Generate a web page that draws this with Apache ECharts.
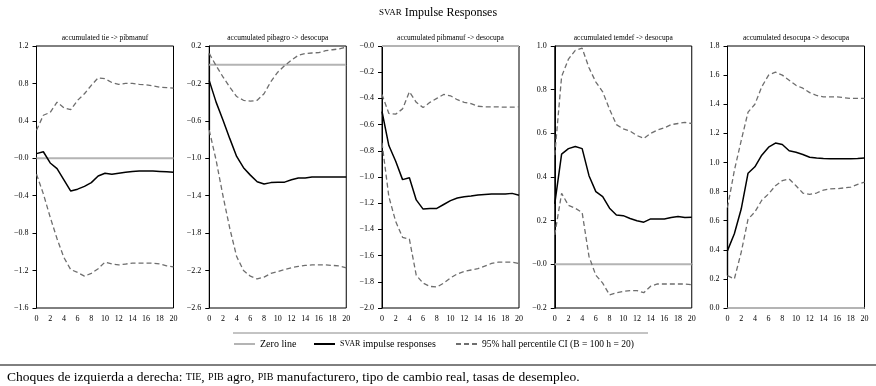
<!DOCTYPE html>
<html>
<head>
<meta charset="utf-8">
<script src="https://cdn.jsdelivr.net/npm/echarts@6/dist/echarts.min.js"></script>
<style>
  html, body { margin: 0; padding: 0; background: #fff; }
  #chart { width: 876px; height: 386px; }
</style>
</head>
<body>
<div id="chart"></div>
<script>
  // horizons 0..20
  const horizons = [0, 1, 2, 3, 4, 5, 6, 7, 8, 9, 10, 11, 12, 13, 14, 15, 16, 17, 18, 19, 20];

  const panelTitles = [
    'accumulated tie -> pibmanuf',
    'accumulated pibagro -> desocupa',
    'accumulated pibmanuf -> desocupa',
    'accumulated temdef -> desocupa',
    'accumulated desocupa -> desocupa'
  ];

  // point estimates
  const tiePibmanuf = [0.05, 0.07, -0.05, -0.11, -0.23, -0.35, -0.33, -0.30, -0.26, -0.19, -0.16, -0.17, -0.16, -0.15, -0.14, -0.135, -0.135, -0.135, -0.14, -0.145, -0.15];
  const pibagroDesocupa = [-0.17, -0.40, -0.59, -0.79, -0.98, -1.10, -1.18, -1.25, -1.275, -1.26, -1.255, -1.255, -1.23, -1.21, -1.21, -1.20, -1.20, -1.20, -1.20, -1.20, -1.20];
  const pibmanufDesocupa = [-0.50, -0.76, -0.88, -1.02, -1.005, -1.175, -1.245, -1.24, -1.24, -1.21, -1.18, -1.16, -1.15, -1.145, -1.137, -1.133, -1.13, -1.13, -1.13, -1.125, -1.14];
  const temdefDesocupa = [0.277, 0.505, 0.53, 0.54, 0.53, 0.406, 0.333, 0.31, 0.257, 0.226, 0.223, 0.21, 0.20, 0.193, 0.208, 0.208, 0.208, 0.214, 0.219, 0.214, 0.216];
  const desocupaDesocupa = [0.394, 0.51, 0.68, 0.926, 0.97, 1.05, 1.105, 1.133, 1.123, 1.08, 1.07, 1.055, 1.036, 1.03, 1.027, 1.025, 1.025, 1.025, 1.025, 1.027, 1.03];

  // 95% bootstrap bands
  const tiePibmanufHi = [0.30, 0.46, 0.49, 0.60, 0.54, 0.52, 0.62, 0.69, 0.78, 0.86, 0.85, 0.81, 0.79, 0.80, 0.80, 0.79, 0.785, 0.775, 0.76, 0.755, 0.75];
  const tiePibmanufLo = [-0.17, -0.38, -0.63, -0.86, -1.06, -1.19, -1.22, -1.26, -1.23, -1.18, -1.11, -1.13, -1.14, -1.13, -1.12, -1.12, -1.12, -1.12, -1.13, -1.15, -1.16];
  const pibagroDesocupaHi = [0.12, -0.01, -0.13, -0.24, -0.34, -0.38, -0.39, -0.38, -0.31, -0.18, -0.08, -0.01, 0.05, 0.10, 0.12, 0.125, 0.13, 0.15, 0.16, 0.17, 0.19];
  const pibagroDesocupaLo = [-0.70, -1.02, -1.40, -1.75, -2.05, -2.20, -2.26, -2.29, -2.27, -2.23, -2.21, -2.19, -2.17, -2.155, -2.145, -2.14, -2.14, -2.14, -2.145, -2.15, -2.17];
  const pibmanufDesocupaHi = [-0.37, -0.515, -0.52, -0.48, -0.35, -0.43, -0.47, -0.43, -0.40, -0.37, -0.38, -0.41, -0.43, -0.44, -0.46, -0.465, -0.465, -0.465, -0.467, -0.467, -0.465];
  const pibmanufDesocupaLo = [-0.74, -1.15, -1.34, -1.46, -1.475, -1.75, -1.81, -1.835, -1.84, -1.81, -1.77, -1.74, -1.72, -1.71, -1.70, -1.68, -1.66, -1.65, -1.65, -1.65, -1.66];
  const temdefDesocupaHi = [0.50, 0.86, 0.94, 0.98, 0.99, 0.90, 0.835, 0.79, 0.71, 0.64, 0.62, 0.61, 0.59, 0.577, 0.60, 0.615, 0.625, 0.64, 0.645, 0.65, 0.645];
  const temdefDesocupaLo = [0.135, 0.325, 0.27, 0.257, 0.237, 0.036, -0.05, -0.086, -0.14, -0.13, -0.124, -0.12, -0.12, -0.13, -0.10, -0.09, -0.09, -0.09, -0.09, -0.09, -0.093];
  const desocupaDesocupaHi = [0.69, 0.945, 1.15, 1.346, 1.40, 1.52, 1.60, 1.62, 1.60, 1.565, 1.53, 1.51, 1.48, 1.46, 1.45, 1.45, 1.45, 1.445, 1.44, 1.44, 1.44];
  const desocupaDesocupaLo = [0.222, 0.20, 0.383, 0.61, 0.66, 0.74, 0.784, 0.84, 0.875, 0.887, 0.84, 0.79, 0.78, 0.79, 0.81, 0.818, 0.82, 0.825, 0.83, 0.85, 0.864];

  const irfs = [tiePibmanuf, pibagroDesocupa, pibmanufDesocupa, temdefDesocupa, desocupaDesocupa];
  const upper = [tiePibmanufHi, pibagroDesocupaHi, pibmanufDesocupaHi, temdefDesocupaHi, desocupaDesocupaHi];
  const lower = [tiePibmanufLo, pibagroDesocupaLo, pibmanufDesocupaLo, temdefDesocupaLo, desocupaDesocupaLo];

  // y axis ranges and tick steps
  const yMin = [-1.6, -2.6, -2.0, -0.2, 0.0];
  const yMax = [1.2, 0.2, 0.0, 1.0, 1.8];
  const yStep = [0.4, 0.4, 0.2, 0.2, 0.2];

  const FONT = '"Liberation Serif", "DejaVu Serif", serif';
  const ZERO_NAME = 'Zero line';
  const IRF_NAME = 'SVAR impulse responses';
  const CI_NAME = '95% hall percentile CI (B = 100 h = 20)';
  const showH0 = [false, true, false, false, true];

  const chart = echarts.init(document.getElementById('chart'), null, {renderer: 'canvas'});

  const grids = [], xAxes = [], yAxes = [], series = [], graphics = [];
  const pair = (arr) => horizons.map((h, j) => [h, arr[j]]);

  irfs.forEach((irf, i) => {
    const left = 36.5 + i * 172.75;
    const width = 137;
    grids.push({left: left, top: 46, width: width, height: 262,
      show: true, borderColor: '#000', borderWidth: 1, backgroundColor: 'transparent'});

    const yTicks = [];
    const n = Math.round((yMax[i] - yMin[i]) / yStep[i]);
    for (let k = 0; k <= n; k++) yTicks.push(+(yMin[i] + k * yStep[i]).toFixed(2));

    xAxes.push({
      type: 'value', gridIndex: i, min: 0, max: 20, interval: 2,
      axisLine: {lineStyle: {color: '#000', width: 1}},
      axisTick: {show: false},
      splitLine: {show: false},
      axisLabel: {fontFamily: FONT, fontSize: 8, color: '#000', margin: 7}
    });
    yAxes.push({
      type: 'value', gridIndex: i, min: yMin[i], max: yMax[i],
      axisLine: {show: true, lineStyle: {color: '#000', width: 1}},
      axisTick: {show: true, length: 4, customValues: yTicks, lineStyle: {color: '#000'}},
      splitLine: {show: false},
      axisLabel: {
        fontFamily: FONT, fontSize: 8, color: '#000', margin: 8,
        customValues: yTicks,
        formatter: (v) => {
          if (Math.abs(v) < 1e-9) return i === 4 ? '0.0' : '\u22120.0';
          return v < 0 ? '\u2212' + Math.abs(v).toFixed(1) : v.toFixed(1);
        }
      }
    });

    series.push({
      name: ZERO_NAME, type: 'line', xAxisIndex: i, yAxisIndex: i,
      data: horizons.map(h => [h, 0]), symbol: 'none', silent: true,
      lineStyle: {color: '#b4b4b4', width: 2}, itemStyle: {color: '#b4b4b4'}, z: 1
    });
    if (showH0[i]) {
      series.push({
        type: 'line', xAxisIndex: i, yAxisIndex: i,
        data: [[0, lower[i][0]], [0, upper[i][0]]], symbol: 'none', silent: true,
        lineStyle: {color: '#9a9a9a', width: 2}, z: -1
      });
    }
    series.push({
      name: CI_NAME, type: 'line', xAxisIndex: i, yAxisIndex: i,
      data: pair(upper[i]), symbol: 'none',
      lineStyle: {color: '#6e6e6e', width: 1.3, type: [5, 3]}, itemStyle: {color: '#6e6e6e'}, z: 2
    });
    series.push({
      name: CI_NAME, type: 'line', xAxisIndex: i, yAxisIndex: i,
      data: pair(lower[i]), symbol: 'none',
      lineStyle: {color: '#6e6e6e', width: 1.3, type: [5, 3]}, itemStyle: {color: '#6e6e6e'}, z: 2
    });
    series.push({
      name: IRF_NAME, type: 'line', xAxisIndex: i, yAxisIndex: i,
      data: pair(irf), symbol: 'none',
      lineStyle: {color: '#000', width: 1.5}, itemStyle: {color: '#000'}, z: 3
    });

    graphics.push({
      type: 'text', x: left + width / 2, y: 38,
      style: {text: panelTitles[i], font: '7.5px ' + FONT, fill: '#000',
        align: 'center', textAlign: 'center', verticalAlign: 'middle', textVerticalAlign: 'middle'}
    });
  });

  // separator lines
  graphics.push({type: 'line', shape: {x1: 233, y1: 333, x2: 648, y2: 333},
    style: {stroke: '#888', lineWidth: 1}});
  graphics.push({type: 'line', shape: {x1: 0, y1: 365, x2: 876, y2: 365},
    style: {stroke: '#000', lineWidth: 1}});
  graphics.push({
    type: 'text', x: 7, y: 377,
    style: {
      text: 'Choques de izquierda a derecha: {sc|TIE}, {sc|PIB} agro, {sc|PIB} manufacturero, tipo de cambio real, tasas de desempleo.',
      font: '13.5px ' + FONT, fill: '#000', verticalAlign: 'middle', textVerticalAlign: 'middle',
      rich: {sc: {fontSize: 10, fontFamily: FONT, fill: '#000', color: '#000'}}
    }
  });

  const legendBase = {
    top: 339, padding: 0,
    itemWidth: 21, itemHeight: 10,
    selectedMode: false,
    itemStyle: {opacity: 0},
    textStyle: {
      fontFamily: FONT, fontSize: 10, color: '#000',
      rich: {sc: {fontFamily: FONT, fontSize: 8, color: '#000'}}
    },
    formatter: (name) => name === IRF_NAME ? '{sc|SVAR} impulse responses' : name
  };

  const option = {
    backgroundColor: '#fff',
    animation: false,
    title: {
      text: '{sc|SVAR} {n|Impulse Responses}',
      left: 'center', top: 2,
      textStyle: {
        fontFamily: FONT, fontWeight: 'normal', color: '#000', fontSize: 12,
        rich: {
          sc: {fontFamily: FONT, fontSize: 9, color: '#000'},
          n: {fontFamily: FONT, fontSize: 12, color: '#000'}
        }
      }
    },
    legend: [
      Object.assign({}, legendBase, {data: [ZERO_NAME], left: 233}),
      Object.assign({}, legendBase, {data: [IRF_NAME], left: 313}),
      Object.assign({}, legendBase, {data: [CI_NAME], left: 455,
        textStyle: Object.assign({}, legendBase.textStyle, {fontSize: 9.5})})
    ],
    grid: grids,
    xAxis: xAxes,
    yAxis: yAxes,
    series: series,
    graphic: graphics
  };

  chart.setOption(option);
</script>
</body>
</html>
